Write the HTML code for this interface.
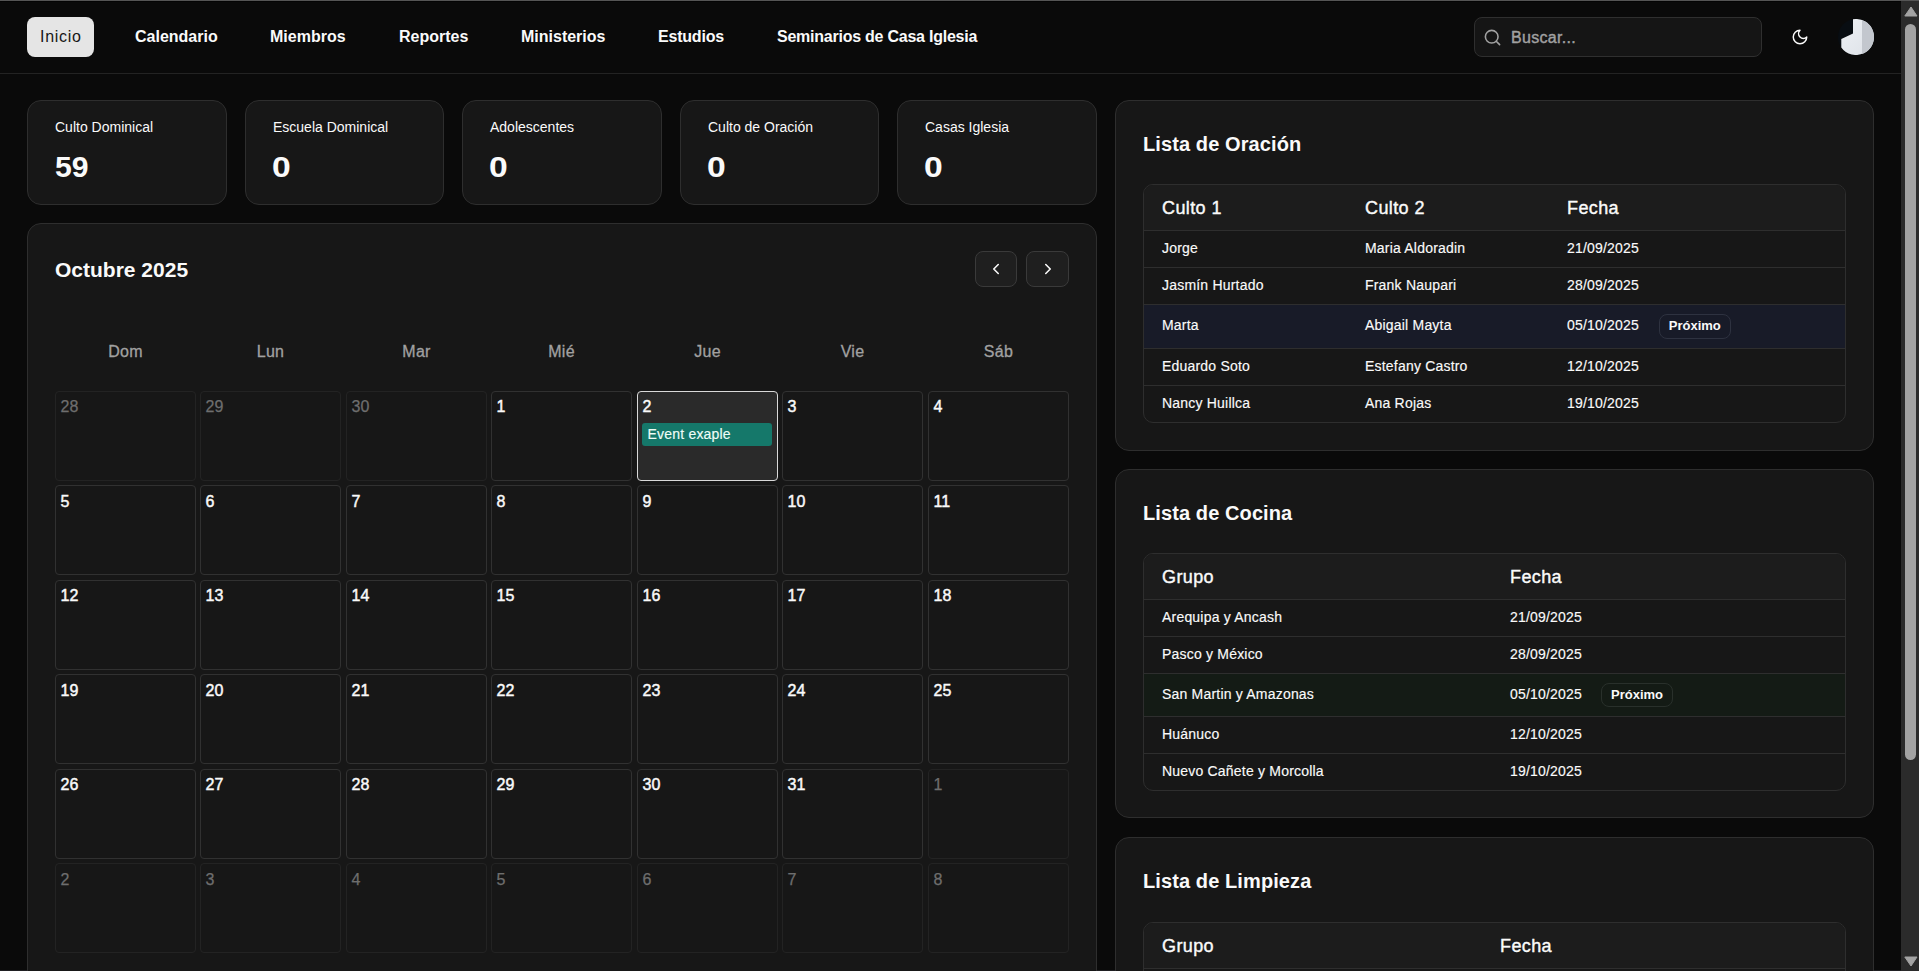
<!DOCTYPE html>
<html lang="es"><head><meta charset="utf-8"><title>Inicio</title>
<style>
html,body{margin:0;padding:0;}
body{width:1919px;height:971px;overflow:hidden;position:relative;background:#0a0a0a;font-family:"Liberation Sans", sans-serif;}
.t{position:absolute;white-space:nowrap;}
.b{position:absolute;}
</style></head><body>
<div class="b" style="left:0px;top:0px;width:1919px;height:1px;background:#555;"></div>
<div class="b" style="left:0px;top:1px;width:1901px;height:1px;background:#040404;"></div>
<div class="b" style="left:0px;top:73px;width:1901px;height:1px;background:#232323;"></div>
<div class="b" style="left:27px;top:17px;width:67px;height:40px;background:#e5e5e5;border-radius:8px;"></div>
<div class="t" style="left:40px;top:28.76px;font-size:16px;line-height:16px;color:#171717;font-weight:400;letter-spacing:0.7px;">Inicio</div>
<div class="t" style="left:135px;top:28.76px;font-size:16px;line-height:16px;color:#fafafa;font-weight:700;">Calendario</div>
<div class="t" style="left:270px;top:28.76px;font-size:16px;line-height:16px;color:#fafafa;font-weight:700;">Miembros</div>
<div class="t" style="left:399px;top:28.76px;font-size:16px;line-height:16px;color:#fafafa;font-weight:700;">Reportes</div>
<div class="t" style="left:521px;top:28.76px;font-size:16px;line-height:16px;color:#fafafa;font-weight:700;">Ministerios</div>
<div class="t" style="left:658px;top:28.76px;font-size:16px;line-height:16px;color:#fafafa;font-weight:700;letter-spacing:-0.2px;">Estudios</div>
<div class="t" style="left:777px;top:28.76px;font-size:16px;line-height:16px;color:#fafafa;font-weight:700;letter-spacing:-0.24px;">Seminarios de Casa Iglesia</div>
<div class="b" style="left:1474px;top:17px;width:288px;height:40px;box-sizing:border-box;border:1px solid #2f2f2f;border-radius:8px;background:#151515;"></div>
<svg class="b" style="left:1483px;top:28px" width="19" height="19" viewBox="0 0 24 24" fill="none" stroke="#a1a1a1" stroke-width="2" stroke-linecap="round" stroke-linejoin="round"><circle cx="11" cy="11" r="8"/><path d="m21 21-4.3-4.3"/></svg>
<div class="t" style="left:1511px;top:29.76px;font-size:16px;line-height:16px;color:#a1a1a1;font-weight:400;letter-spacing:0.3px;-webkit-text-stroke:0.4px #a1a1a1;">Buscar...</div>
<svg class="b" style="left:1791px;top:28px" width="18" height="18" viewBox="0 0 24 24" fill="none" stroke="#fafafa" stroke-width="1.95" stroke-linecap="round" stroke-linejoin="round"><path d="M12 3a6 6 0 0 0 9 9 9 9 0 1 1-9-9Z"/></svg>
<svg class="b" style="left:1838px;top:19px" width="36" height="36" viewBox="0 0 36 36">
<defs><linearGradient id="ag" x1="0" y1="0" x2="1" y2="1"><stop offset="0" stop-color="#eef1f5"/><stop offset="1" stop-color="#dde1e7"/></linearGradient></defs>
<circle cx="18" cy="18" r="18" fill="#080d12"/>
<path d="M15 0.25 A18 18 0 1 1 3.3 28.4 L3.3 20 L15 14.4 Z" fill="url(#ag)"/>
<path d="M24 1.03 A18 18 0 0 1 24 34.97 Z" fill="#c3c7ce"/>
</svg>
<div class="b" style="left:0px;top:970px;width:1901px;height:1px;background:#1f1f22;"></div>
<div class="b" style="left:1901px;top:0px;width:18px;height:971px;background:#2b2b2b;"></div>
<div class="b" style="left:1901px;top:0px;width:18px;height:1px;background:#555;"></div>
<svg class="b" style="left:1901px;top:0px" width="18" height="971" viewBox="0 0 18 971"><path d="M3.8 16 L10 7 L16 16 Z" fill="#a3a3a3" stroke="#a3a3a3" stroke-width="1" stroke-linejoin="round"/><path d="M3.8 957 L10 966 L16 957 Z" fill="#a3a3a3" stroke="#a3a3a3" stroke-width="1" stroke-linejoin="round"/></svg>
<div class="b" style="left:1905px;top:24px;width:11px;height:736px;background:#a3a3a3;border-radius:6px;"></div>
<div class="b" style="left:27px;top:100px;width:200px;height:105px;box-sizing:border-box;background:#171717;border:1px solid #2e2e2e;border-radius:14px;"></div>
<div class="t" style="left:55px;top:120.25px;font-size:14px;line-height:14px;color:#fafafa;font-weight:400;">Culto Dominical</div>
<div class="t" style="left:55px;top:152.65px;font-size:29px;line-height:29px;color:#fafafa;font-weight:700;transform:scaleX(1.04);transform-origin:0 0;">59</div>
<div class="b" style="left:245px;top:100px;width:199px;height:105px;box-sizing:border-box;background:#171717;border:1px solid #2e2e2e;border-radius:14px;"></div>
<div class="t" style="left:273px;top:120.25px;font-size:14px;line-height:14px;color:#fafafa;font-weight:400;">Escuela Dominical</div>
<div class="t" style="left:271.8px;top:152.65px;font-size:29px;line-height:29px;color:#fafafa;font-weight:700;transform:scaleX(1.16);transform-origin:0 0;">0</div>
<div class="b" style="left:462px;top:100px;width:200px;height:105px;box-sizing:border-box;background:#171717;border:1px solid #2e2e2e;border-radius:14px;"></div>
<div class="t" style="left:490px;top:120.25px;font-size:14px;line-height:14px;color:#fafafa;font-weight:400;">Adolescentes</div>
<div class="t" style="left:488.8px;top:152.65px;font-size:29px;line-height:29px;color:#fafafa;font-weight:700;transform:scaleX(1.16);transform-origin:0 0;">0</div>
<div class="b" style="left:680px;top:100px;width:199px;height:105px;box-sizing:border-box;background:#171717;border:1px solid #2e2e2e;border-radius:14px;"></div>
<div class="t" style="left:708px;top:120.25px;font-size:14px;line-height:14px;color:#fafafa;font-weight:400;">Culto de Oración</div>
<div class="t" style="left:706.8px;top:152.65px;font-size:29px;line-height:29px;color:#fafafa;font-weight:700;transform:scaleX(1.16);transform-origin:0 0;">0</div>
<div class="b" style="left:897px;top:100px;width:200px;height:105px;box-sizing:border-box;background:#171717;border:1px solid #2e2e2e;border-radius:14px;"></div>
<div class="t" style="left:925px;top:120.25px;font-size:14px;line-height:14px;color:#fafafa;font-weight:400;">Casas Iglesia</div>
<div class="t" style="left:923.8px;top:152.65px;font-size:29px;line-height:29px;color:#fafafa;font-weight:700;transform:scaleX(1.16);transform-origin:0 0;">0</div>
<div class="b" style="left:27px;top:223px;width:1070px;height:800px;box-sizing:border-box;background:#171717;border:1px solid #2e2e2e;border-radius:14px;"></div>
<div class="t" style="left:55px;top:259.22px;font-size:21px;line-height:21px;color:#fafafa;font-weight:700;">Octubre 2025</div>
<div class="b" style="left:975px;top:251px;width:42px;height:36px;box-sizing:border-box;background:#1f1f1f;border:1px solid #3a3a3a;border-radius:8px;"></div>
<div class="b" style="left:1026px;top:251px;width:43px;height:36px;box-sizing:border-box;background:#1f1f1f;border:1px solid #3a3a3a;border-radius:8px;"></div>
<svg class="b" style="left:987px;top:260px" width="18" height="18" viewBox="0 0 24 24" fill="none" stroke="#fafafa" stroke-width="2.1" stroke-linecap="round" stroke-linejoin="round"><path d="m15 18-6-6 6-6"/></svg>
<svg class="b" style="left:1039px;top:260px" width="18" height="18" viewBox="0 0 24 24" fill="none" stroke="#fafafa" stroke-width="2.1" stroke-linecap="round" stroke-linejoin="round"><path d="m9 18 6-6-6-6"/></svg>
<div class="t" style="left:85.50px;width:80px;text-align:center;top:344.36px;font-size:16px;line-height:16px;color:#a1a1a1;-webkit-text-stroke:0.3px #a1a1a1;letter-spacing:0.3px;">Dom</div>
<div class="t" style="left:230.50px;width:80px;text-align:center;top:344.36px;font-size:16px;line-height:16px;color:#a1a1a1;-webkit-text-stroke:0.3px #a1a1a1;letter-spacing:0.3px;">Lun</div>
<div class="t" style="left:376.50px;width:80px;text-align:center;top:344.36px;font-size:16px;line-height:16px;color:#a1a1a1;-webkit-text-stroke:0.3px #a1a1a1;letter-spacing:0.3px;">Mar</div>
<div class="t" style="left:521.50px;width:80px;text-align:center;top:344.36px;font-size:16px;line-height:16px;color:#a1a1a1;-webkit-text-stroke:0.3px #a1a1a1;letter-spacing:0.3px;">Mié</div>
<div class="t" style="left:667.50px;width:80px;text-align:center;top:344.36px;font-size:16px;line-height:16px;color:#a1a1a1;-webkit-text-stroke:0.3px #a1a1a1;letter-spacing:0.3px;">Jue</div>
<div class="t" style="left:812.50px;width:80px;text-align:center;top:344.36px;font-size:16px;line-height:16px;color:#a1a1a1;-webkit-text-stroke:0.3px #a1a1a1;letter-spacing:0.3px;">Vie</div>
<div class="t" style="left:958.50px;width:80px;text-align:center;top:344.36px;font-size:16px;line-height:16px;color:#a1a1a1;-webkit-text-stroke:0.3px #a1a1a1;letter-spacing:0.3px;">Sáb</div>
<div class="b" style="left:55px;top:391px;width:141px;height:90px;box-sizing:border-box;border-radius:4px;border:1px solid #232323;"></div>
<div class="t" style="left:60.5px;top:399.06px;font-size:16px;line-height:16px;color:#6e6e6e;font-weight:400;-webkit-text-stroke:0.25px #6e6e6e;">28</div>
<div class="b" style="left:200px;top:391px;width:141px;height:90px;box-sizing:border-box;border-radius:4px;border:1px solid #232323;"></div>
<div class="t" style="left:205.5px;top:399.06px;font-size:16px;line-height:16px;color:#6e6e6e;font-weight:400;-webkit-text-stroke:0.25px #6e6e6e;">29</div>
<div class="b" style="left:346px;top:391px;width:141px;height:90px;box-sizing:border-box;border-radius:4px;border:1px solid #232323;"></div>
<div class="t" style="left:351.5px;top:399.06px;font-size:16px;line-height:16px;color:#6e6e6e;font-weight:400;-webkit-text-stroke:0.25px #6e6e6e;">30</div>
<div class="b" style="left:491px;top:391px;width:141px;height:90px;box-sizing:border-box;border-radius:4px;border:1px solid #313131;"></div>
<div class="t" style="left:496.5px;top:399.06px;font-size:16px;line-height:16px;color:#fafafa;font-weight:400;-webkit-text-stroke:0.45px #fafafa;">1</div>
<div class="b" style="left:637px;top:391px;width:141px;height:90px;box-sizing:border-box;border-radius:4px;background:#2a2a2a;border:1px solid #d9d9d9;"></div>
<div class="t" style="left:642.5px;top:399.06px;font-size:16px;line-height:16px;color:#fafafa;font-weight:400;-webkit-text-stroke:0.45px #fafafa;">2</div>
<div class="b" style="left:782px;top:391px;width:141px;height:90px;box-sizing:border-box;border-radius:4px;border:1px solid #313131;"></div>
<div class="t" style="left:787.5px;top:399.06px;font-size:16px;line-height:16px;color:#fafafa;font-weight:400;-webkit-text-stroke:0.45px #fafafa;">3</div>
<div class="b" style="left:928px;top:391px;width:141px;height:90px;box-sizing:border-box;border-radius:4px;border:1px solid #313131;"></div>
<div class="t" style="left:933.5px;top:399.06px;font-size:16px;line-height:16px;color:#fafafa;font-weight:400;-webkit-text-stroke:0.45px #fafafa;">4</div>
<div class="b" style="left:55px;top:485px;width:141px;height:90px;box-sizing:border-box;border-radius:4px;border:1px solid #313131;"></div>
<div class="t" style="left:60.5px;top:493.56px;font-size:16px;line-height:16px;color:#fafafa;font-weight:400;-webkit-text-stroke:0.45px #fafafa;">5</div>
<div class="b" style="left:200px;top:485px;width:141px;height:90px;box-sizing:border-box;border-radius:4px;border:1px solid #313131;"></div>
<div class="t" style="left:205.5px;top:493.56px;font-size:16px;line-height:16px;color:#fafafa;font-weight:400;-webkit-text-stroke:0.45px #fafafa;">6</div>
<div class="b" style="left:346px;top:485px;width:141px;height:90px;box-sizing:border-box;border-radius:4px;border:1px solid #313131;"></div>
<div class="t" style="left:351.5px;top:493.56px;font-size:16px;line-height:16px;color:#fafafa;font-weight:400;-webkit-text-stroke:0.45px #fafafa;">7</div>
<div class="b" style="left:491px;top:485px;width:141px;height:90px;box-sizing:border-box;border-radius:4px;border:1px solid #313131;"></div>
<div class="t" style="left:496.5px;top:493.56px;font-size:16px;line-height:16px;color:#fafafa;font-weight:400;-webkit-text-stroke:0.45px #fafafa;">8</div>
<div class="b" style="left:637px;top:485px;width:141px;height:90px;box-sizing:border-box;border-radius:4px;border:1px solid #313131;"></div>
<div class="t" style="left:642.5px;top:493.56px;font-size:16px;line-height:16px;color:#fafafa;font-weight:400;-webkit-text-stroke:0.45px #fafafa;">9</div>
<div class="b" style="left:782px;top:485px;width:141px;height:90px;box-sizing:border-box;border-radius:4px;border:1px solid #313131;"></div>
<div class="t" style="left:787.5px;top:493.56px;font-size:16px;line-height:16px;color:#fafafa;font-weight:400;-webkit-text-stroke:0.45px #fafafa;">10</div>
<div class="b" style="left:928px;top:485px;width:141px;height:90px;box-sizing:border-box;border-radius:4px;border:1px solid #313131;"></div>
<div class="t" style="left:933.5px;top:493.56px;font-size:16px;line-height:16px;color:#fafafa;font-weight:400;-webkit-text-stroke:0.45px #fafafa;">11</div>
<div class="b" style="left:55px;top:580px;width:141px;height:90px;box-sizing:border-box;border-radius:4px;border:1px solid #313131;"></div>
<div class="t" style="left:60.5px;top:588.06px;font-size:16px;line-height:16px;color:#fafafa;font-weight:400;-webkit-text-stroke:0.45px #fafafa;">12</div>
<div class="b" style="left:200px;top:580px;width:141px;height:90px;box-sizing:border-box;border-radius:4px;border:1px solid #313131;"></div>
<div class="t" style="left:205.5px;top:588.06px;font-size:16px;line-height:16px;color:#fafafa;font-weight:400;-webkit-text-stroke:0.45px #fafafa;">13</div>
<div class="b" style="left:346px;top:580px;width:141px;height:90px;box-sizing:border-box;border-radius:4px;border:1px solid #313131;"></div>
<div class="t" style="left:351.5px;top:588.06px;font-size:16px;line-height:16px;color:#fafafa;font-weight:400;-webkit-text-stroke:0.45px #fafafa;">14</div>
<div class="b" style="left:491px;top:580px;width:141px;height:90px;box-sizing:border-box;border-radius:4px;border:1px solid #313131;"></div>
<div class="t" style="left:496.5px;top:588.06px;font-size:16px;line-height:16px;color:#fafafa;font-weight:400;-webkit-text-stroke:0.45px #fafafa;">15</div>
<div class="b" style="left:637px;top:580px;width:141px;height:90px;box-sizing:border-box;border-radius:4px;border:1px solid #313131;"></div>
<div class="t" style="left:642.5px;top:588.06px;font-size:16px;line-height:16px;color:#fafafa;font-weight:400;-webkit-text-stroke:0.45px #fafafa;">16</div>
<div class="b" style="left:782px;top:580px;width:141px;height:90px;box-sizing:border-box;border-radius:4px;border:1px solid #313131;"></div>
<div class="t" style="left:787.5px;top:588.06px;font-size:16px;line-height:16px;color:#fafafa;font-weight:400;-webkit-text-stroke:0.45px #fafafa;">17</div>
<div class="b" style="left:928px;top:580px;width:141px;height:90px;box-sizing:border-box;border-radius:4px;border:1px solid #313131;"></div>
<div class="t" style="left:933.5px;top:588.06px;font-size:16px;line-height:16px;color:#fafafa;font-weight:400;-webkit-text-stroke:0.45px #fafafa;">18</div>
<div class="b" style="left:55px;top:674px;width:141px;height:90px;box-sizing:border-box;border-radius:4px;border:1px solid #313131;"></div>
<div class="t" style="left:60.5px;top:682.56px;font-size:16px;line-height:16px;color:#fafafa;font-weight:400;-webkit-text-stroke:0.45px #fafafa;">19</div>
<div class="b" style="left:200px;top:674px;width:141px;height:90px;box-sizing:border-box;border-radius:4px;border:1px solid #313131;"></div>
<div class="t" style="left:205.5px;top:682.56px;font-size:16px;line-height:16px;color:#fafafa;font-weight:400;-webkit-text-stroke:0.45px #fafafa;">20</div>
<div class="b" style="left:346px;top:674px;width:141px;height:90px;box-sizing:border-box;border-radius:4px;border:1px solid #313131;"></div>
<div class="t" style="left:351.5px;top:682.56px;font-size:16px;line-height:16px;color:#fafafa;font-weight:400;-webkit-text-stroke:0.45px #fafafa;">21</div>
<div class="b" style="left:491px;top:674px;width:141px;height:90px;box-sizing:border-box;border-radius:4px;border:1px solid #313131;"></div>
<div class="t" style="left:496.5px;top:682.56px;font-size:16px;line-height:16px;color:#fafafa;font-weight:400;-webkit-text-stroke:0.45px #fafafa;">22</div>
<div class="b" style="left:637px;top:674px;width:141px;height:90px;box-sizing:border-box;border-radius:4px;border:1px solid #313131;"></div>
<div class="t" style="left:642.5px;top:682.56px;font-size:16px;line-height:16px;color:#fafafa;font-weight:400;-webkit-text-stroke:0.45px #fafafa;">23</div>
<div class="b" style="left:782px;top:674px;width:141px;height:90px;box-sizing:border-box;border-radius:4px;border:1px solid #313131;"></div>
<div class="t" style="left:787.5px;top:682.56px;font-size:16px;line-height:16px;color:#fafafa;font-weight:400;-webkit-text-stroke:0.45px #fafafa;">24</div>
<div class="b" style="left:928px;top:674px;width:141px;height:90px;box-sizing:border-box;border-radius:4px;border:1px solid #313131;"></div>
<div class="t" style="left:933.5px;top:682.56px;font-size:16px;line-height:16px;color:#fafafa;font-weight:400;-webkit-text-stroke:0.45px #fafafa;">25</div>
<div class="b" style="left:55px;top:769px;width:141px;height:90px;box-sizing:border-box;border-radius:4px;border:1px solid #313131;"></div>
<div class="t" style="left:60.5px;top:777.06px;font-size:16px;line-height:16px;color:#fafafa;font-weight:400;-webkit-text-stroke:0.45px #fafafa;">26</div>
<div class="b" style="left:200px;top:769px;width:141px;height:90px;box-sizing:border-box;border-radius:4px;border:1px solid #313131;"></div>
<div class="t" style="left:205.5px;top:777.06px;font-size:16px;line-height:16px;color:#fafafa;font-weight:400;-webkit-text-stroke:0.45px #fafafa;">27</div>
<div class="b" style="left:346px;top:769px;width:141px;height:90px;box-sizing:border-box;border-radius:4px;border:1px solid #313131;"></div>
<div class="t" style="left:351.5px;top:777.06px;font-size:16px;line-height:16px;color:#fafafa;font-weight:400;-webkit-text-stroke:0.45px #fafafa;">28</div>
<div class="b" style="left:491px;top:769px;width:141px;height:90px;box-sizing:border-box;border-radius:4px;border:1px solid #313131;"></div>
<div class="t" style="left:496.5px;top:777.06px;font-size:16px;line-height:16px;color:#fafafa;font-weight:400;-webkit-text-stroke:0.45px #fafafa;">29</div>
<div class="b" style="left:637px;top:769px;width:141px;height:90px;box-sizing:border-box;border-radius:4px;border:1px solid #313131;"></div>
<div class="t" style="left:642.5px;top:777.06px;font-size:16px;line-height:16px;color:#fafafa;font-weight:400;-webkit-text-stroke:0.45px #fafafa;">30</div>
<div class="b" style="left:782px;top:769px;width:141px;height:90px;box-sizing:border-box;border-radius:4px;border:1px solid #313131;"></div>
<div class="t" style="left:787.5px;top:777.06px;font-size:16px;line-height:16px;color:#fafafa;font-weight:400;-webkit-text-stroke:0.45px #fafafa;">31</div>
<div class="b" style="left:928px;top:769px;width:141px;height:90px;box-sizing:border-box;border-radius:4px;border:1px solid #232323;"></div>
<div class="t" style="left:933.5px;top:777.06px;font-size:16px;line-height:16px;color:#6e6e6e;font-weight:400;-webkit-text-stroke:0.25px #6e6e6e;">1</div>
<div class="b" style="left:55px;top:863px;width:141px;height:90px;box-sizing:border-box;border-radius:4px;border:1px solid #232323;"></div>
<div class="t" style="left:60.5px;top:871.56px;font-size:16px;line-height:16px;color:#6e6e6e;font-weight:400;-webkit-text-stroke:0.25px #6e6e6e;">2</div>
<div class="b" style="left:200px;top:863px;width:141px;height:90px;box-sizing:border-box;border-radius:4px;border:1px solid #232323;"></div>
<div class="t" style="left:205.5px;top:871.56px;font-size:16px;line-height:16px;color:#6e6e6e;font-weight:400;-webkit-text-stroke:0.25px #6e6e6e;">3</div>
<div class="b" style="left:346px;top:863px;width:141px;height:90px;box-sizing:border-box;border-radius:4px;border:1px solid #232323;"></div>
<div class="t" style="left:351.5px;top:871.56px;font-size:16px;line-height:16px;color:#6e6e6e;font-weight:400;-webkit-text-stroke:0.25px #6e6e6e;">4</div>
<div class="b" style="left:491px;top:863px;width:141px;height:90px;box-sizing:border-box;border-radius:4px;border:1px solid #232323;"></div>
<div class="t" style="left:496.5px;top:871.56px;font-size:16px;line-height:16px;color:#6e6e6e;font-weight:400;-webkit-text-stroke:0.25px #6e6e6e;">5</div>
<div class="b" style="left:637px;top:863px;width:141px;height:90px;box-sizing:border-box;border-radius:4px;border:1px solid #232323;"></div>
<div class="t" style="left:642.5px;top:871.56px;font-size:16px;line-height:16px;color:#6e6e6e;font-weight:400;-webkit-text-stroke:0.25px #6e6e6e;">6</div>
<div class="b" style="left:782px;top:863px;width:141px;height:90px;box-sizing:border-box;border-radius:4px;border:1px solid #232323;"></div>
<div class="t" style="left:787.5px;top:871.56px;font-size:16px;line-height:16px;color:#6e6e6e;font-weight:400;-webkit-text-stroke:0.25px #6e6e6e;">7</div>
<div class="b" style="left:928px;top:863px;width:141px;height:90px;box-sizing:border-box;border-radius:4px;border:1px solid #232323;"></div>
<div class="t" style="left:933.5px;top:871.56px;font-size:16px;line-height:16px;color:#6e6e6e;font-weight:400;-webkit-text-stroke:0.25px #6e6e6e;">8</div>
<div class="b" style="left:642px;top:423px;width:130px;height:23px;background:#15786a;border-radius:3px;"></div>
<div class="t" style="left:647.5px;top:426.85px;font-size:14px;line-height:14px;color:#effdf7;font-weight:400;letter-spacing:0.2px;-webkit-text-stroke:0.15px #effdf7;">Event exaple</div>
<div class="b" style="left:1115px;top:100px;width:759px;height:351px;box-sizing:border-box;background:#171717;border:1px solid #2e2e2e;border-radius:14px;"></div>
<div class="t" style="left:1143px;top:134.07px;font-size:20px;line-height:20px;color:#fafafa;font-weight:700;letter-spacing:0.1px;">Lista de Oración</div>
<div class="b" style="left:1143px;top:184px;width:703px;height:239px;box-sizing:border-box;border:1px solid #2e2e2e;border-radius:10px;background:#171717;overflow:hidden;"></div>
<div class="b" style="left:1144px;top:185px;width:701px;height:45px;background:#1c1c1c;border-radius:9px 9px 0 0;"></div>
<div class="b" style="left:1144px;top:230px;width:701px;height:1px;background:#2e2e2e;"></div>
<div class="b" style="left:1144px;top:267px;width:701px;height:1px;background:#2e2e2e;"></div>
<div class="b" style="left:1144px;top:304px;width:701px;height:1px;background:#2e2e2e;"></div>
<div class="b" style="left:1144px;top:348px;width:701px;height:1px;background:#2e2e2e;"></div>
<div class="b" style="left:1144px;top:385px;width:701px;height:1px;background:#2e2e2e;"></div>
<div class="b" style="left:1144px;top:305px;width:701px;height:43px;background:#181b28;"></div>
<div class="t" style="left:1162px;top:198.76px;font-size:18px;line-height:18px;color:#fafafa;font-weight:400;letter-spacing:0.4px;-webkit-text-stroke:0.4px #fafafa;">Culto 1</div>
<div class="t" style="left:1365px;top:198.76px;font-size:18px;line-height:18px;color:#fafafa;font-weight:400;letter-spacing:0.4px;-webkit-text-stroke:0.4px #fafafa;">Culto 2</div>
<div class="t" style="left:1567px;top:198.76px;font-size:18px;line-height:18px;color:#fafafa;font-weight:400;letter-spacing:0.4px;-webkit-text-stroke:0.4px #fafafa;">Fecha</div>
<div class="t" style="left:1162px;top:240.85px;font-size:14px;line-height:14px;color:#fafafa;font-weight:400;letter-spacing:0.2px;-webkit-text-stroke:0.15px #fafafa;">Jorge</div>
<div class="t" style="left:1365px;top:240.85px;font-size:14px;line-height:14px;color:#fafafa;font-weight:400;letter-spacing:0.2px;-webkit-text-stroke:0.15px #fafafa;">Maria Aldoradin</div>
<div class="t" style="left:1567px;top:240.85px;font-size:14px;line-height:14px;color:#fafafa;font-weight:400;letter-spacing:0.2px;-webkit-text-stroke:0.15px #fafafa;">21/09/2025</div>
<div class="t" style="left:1162px;top:277.85px;font-size:14px;line-height:14px;color:#fafafa;font-weight:400;letter-spacing:0.2px;-webkit-text-stroke:0.15px #fafafa;">Jasmín Hurtado</div>
<div class="t" style="left:1365px;top:277.85px;font-size:14px;line-height:14px;color:#fafafa;font-weight:400;letter-spacing:0.2px;-webkit-text-stroke:0.15px #fafafa;">Frank Naupari</div>
<div class="t" style="left:1567px;top:277.85px;font-size:14px;line-height:14px;color:#fafafa;font-weight:400;letter-spacing:0.2px;-webkit-text-stroke:0.15px #fafafa;">28/09/2025</div>
<div class="t" style="left:1162px;top:318.15px;font-size:14px;line-height:14px;color:#fafafa;font-weight:400;letter-spacing:0.2px;-webkit-text-stroke:0.15px #fafafa;">Marta</div>
<div class="t" style="left:1365px;top:318.15px;font-size:14px;line-height:14px;color:#fafafa;font-weight:400;letter-spacing:0.2px;-webkit-text-stroke:0.15px #fafafa;">Abigail Mayta</div>
<div class="t" style="left:1567px;top:318.15px;font-size:14px;line-height:14px;color:#fafafa;font-weight:400;letter-spacing:0.2px;-webkit-text-stroke:0.15px #fafafa;">05/10/2025</div>
<div class="t" style="left:1162px;top:358.85px;font-size:14px;line-height:14px;color:#fafafa;font-weight:400;letter-spacing:0.2px;-webkit-text-stroke:0.15px #fafafa;">Eduardo Soto</div>
<div class="t" style="left:1365px;top:358.85px;font-size:14px;line-height:14px;color:#fafafa;font-weight:400;letter-spacing:0.2px;-webkit-text-stroke:0.15px #fafafa;">Estefany Castro</div>
<div class="t" style="left:1567px;top:358.85px;font-size:14px;line-height:14px;color:#fafafa;font-weight:400;letter-spacing:0.2px;-webkit-text-stroke:0.15px #fafafa;">12/10/2025</div>
<div class="t" style="left:1162px;top:395.85px;font-size:14px;line-height:14px;color:#fafafa;font-weight:400;letter-spacing:0.2px;-webkit-text-stroke:0.15px #fafafa;">Nancy Huillca</div>
<div class="t" style="left:1365px;top:395.85px;font-size:14px;line-height:14px;color:#fafafa;font-weight:400;letter-spacing:0.2px;-webkit-text-stroke:0.15px #fafafa;">Ana Rojas</div>
<div class="t" style="left:1567px;top:395.85px;font-size:14px;line-height:14px;color:#fafafa;font-weight:400;letter-spacing:0.2px;-webkit-text-stroke:0.15px #fafafa;">19/10/2025</div>
<div class="b" style="left:1659px;top:314px;width:72px;height:25px;box-sizing:border-box;border:1px solid #2e3240;border-radius:8px;"></div>
<div class="t" style="left:1668.75px;top:319.00px;font-size:13px;line-height:13px;color:#fafafa;font-weight:700;">Próximo</div>
<div class="b" style="left:1115px;top:469px;width:759px;height:349px;box-sizing:border-box;background:#171717;border:1px solid #2e2e2e;border-radius:14px;"></div>
<div class="t" style="left:1143px;top:503.07px;font-size:20px;line-height:20px;color:#fafafa;font-weight:700;letter-spacing:0.1px;">Lista de Cocina</div>
<div class="b" style="left:1143px;top:553px;width:703px;height:238px;box-sizing:border-box;border:1px solid #2e2e2e;border-radius:10px;background:#171717;"></div>
<div class="b" style="left:1144px;top:554px;width:701px;height:45px;background:#1c1c1c;border-radius:9px 9px 0 0;"></div>
<div class="b" style="left:1144px;top:599px;width:701px;height:1px;background:#2e2e2e;"></div>
<div class="b" style="left:1144px;top:636px;width:701px;height:1px;background:#2e2e2e;"></div>
<div class="b" style="left:1144px;top:673px;width:701px;height:1px;background:#2e2e2e;"></div>
<div class="b" style="left:1144px;top:716px;width:701px;height:1px;background:#2e2e2e;"></div>
<div class="b" style="left:1144px;top:753px;width:701px;height:1px;background:#2e2e2e;"></div>
<div class="b" style="left:1144px;top:674px;width:701px;height:42px;background:#141b15;"></div>
<div class="t" style="left:1162px;top:567.76px;font-size:18px;line-height:18px;color:#fafafa;font-weight:400;letter-spacing:0.4px;-webkit-text-stroke:0.4px #fafafa;">Grupo</div>
<div class="t" style="left:1510px;top:567.76px;font-size:18px;line-height:18px;color:#fafafa;font-weight:400;letter-spacing:0.4px;-webkit-text-stroke:0.4px #fafafa;">Fecha</div>
<div class="t" style="left:1162px;top:609.85px;font-size:14px;line-height:14px;color:#fafafa;font-weight:400;letter-spacing:0.2px;-webkit-text-stroke:0.15px #fafafa;">Arequipa y Ancash</div>
<div class="t" style="left:1510px;top:609.85px;font-size:14px;line-height:14px;color:#fafafa;font-weight:400;letter-spacing:0.2px;-webkit-text-stroke:0.15px #fafafa;">21/09/2025</div>
<div class="t" style="left:1162px;top:646.85px;font-size:14px;line-height:14px;color:#fafafa;font-weight:400;letter-spacing:0.2px;-webkit-text-stroke:0.15px #fafafa;">Pasco y México</div>
<div class="t" style="left:1510px;top:646.85px;font-size:14px;line-height:14px;color:#fafafa;font-weight:400;letter-spacing:0.2px;-webkit-text-stroke:0.15px #fafafa;">28/09/2025</div>
<div class="t" style="left:1162px;top:687.15px;font-size:14px;line-height:14px;color:#fafafa;font-weight:400;letter-spacing:0.2px;-webkit-text-stroke:0.15px #fafafa;">San Martin y Amazonas</div>
<div class="t" style="left:1510px;top:687.15px;font-size:14px;line-height:14px;color:#fafafa;font-weight:400;letter-spacing:0.2px;-webkit-text-stroke:0.15px #fafafa;">05/10/2025</div>
<div class="t" style="left:1162px;top:726.85px;font-size:14px;line-height:14px;color:#fafafa;font-weight:400;letter-spacing:0.2px;-webkit-text-stroke:0.15px #fafafa;">Huánuco</div>
<div class="t" style="left:1510px;top:726.85px;font-size:14px;line-height:14px;color:#fafafa;font-weight:400;letter-spacing:0.2px;-webkit-text-stroke:0.15px #fafafa;">12/10/2025</div>
<div class="t" style="left:1162px;top:763.85px;font-size:14px;line-height:14px;color:#fafafa;font-weight:400;letter-spacing:0.2px;-webkit-text-stroke:0.15px #fafafa;">Nuevo Cañete y Morcolla</div>
<div class="t" style="left:1510px;top:763.85px;font-size:14px;line-height:14px;color:#fafafa;font-weight:400;letter-spacing:0.2px;-webkit-text-stroke:0.15px #fafafa;">19/10/2025</div>
<div class="b" style="left:1601px;top:683px;width:72px;height:24px;box-sizing:border-box;border:1px solid #29302b;border-radius:8px;"></div>
<div class="t" style="left:1611px;top:688.00px;font-size:13px;line-height:13px;color:#fafafa;font-weight:700;">Próximo</div>
<div class="b" style="left:1115px;top:837px;width:759px;height:400px;box-sizing:border-box;background:#171717;border:1px solid #2e2e2e;border-radius:14px;"></div>
<div class="t" style="left:1143px;top:871.07px;font-size:20px;line-height:20px;color:#fafafa;font-weight:700;letter-spacing:0.1px;">Lista de Limpieza</div>
<div class="b" style="left:1143px;top:922px;width:703px;height:238px;box-sizing:border-box;border:1px solid #2e2e2e;border-radius:10px;background:#171717;"></div>
<div class="b" style="left:1144px;top:923px;width:701px;height:45px;background:#1c1c1c;border-radius:9px 9px 0 0;"></div>
<div class="b" style="left:1144px;top:968px;width:701px;height:1px;background:#2e2e2e;"></div>
<div class="t" style="left:1162px;top:936.76px;font-size:18px;line-height:18px;color:#fafafa;font-weight:400;letter-spacing:0.4px;-webkit-text-stroke:0.4px #fafafa;">Grupo</div>
<div class="t" style="left:1500px;top:936.76px;font-size:18px;line-height:18px;color:#fafafa;font-weight:400;letter-spacing:0.4px;-webkit-text-stroke:0.4px #fafafa;">Fecha</div>
</body></html>
